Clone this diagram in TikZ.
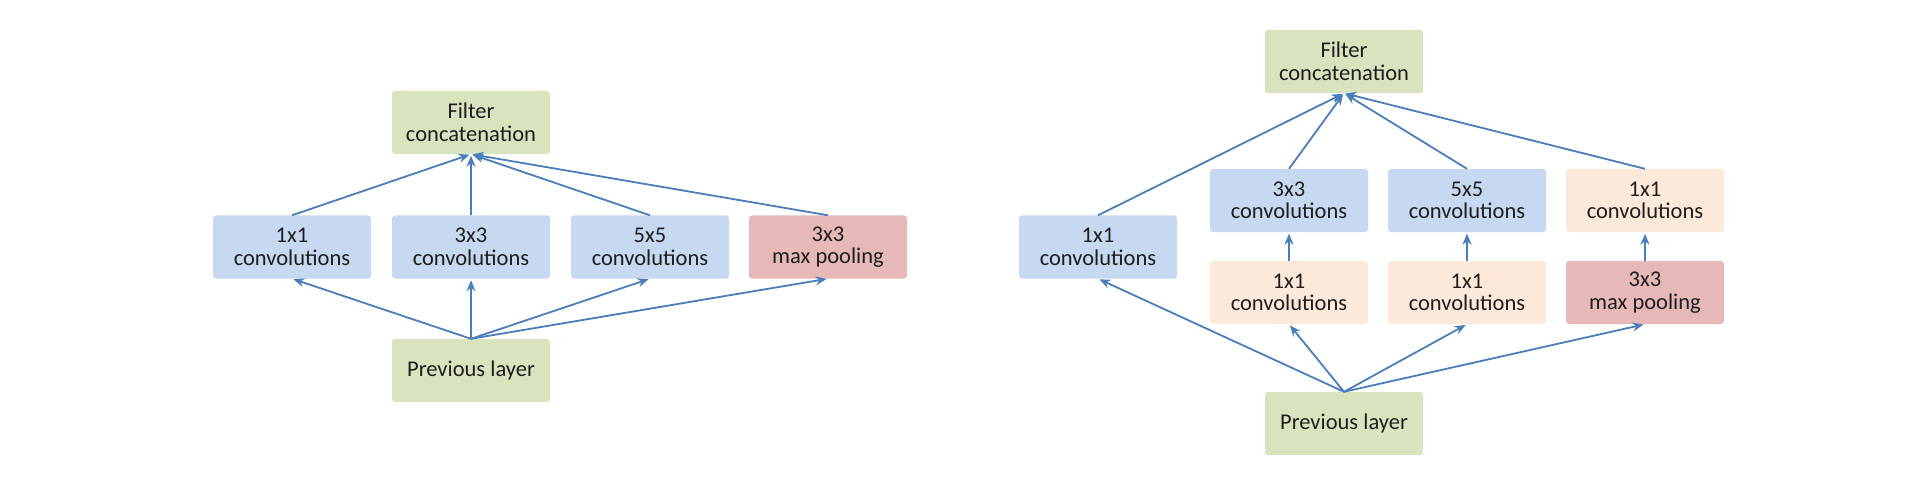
\documentclass[tikz,border=0pt]{standalone}
\usepackage{fontspec}
\setmainfont{Carlito}
\usetikzlibrary{arrows.meta}
\definecolor{bluebox}{RGB}{198,217,241}
\definecolor{greenbox}{RGB}{215,228,189}
\definecolor{peachbox}{RGB}{253,233,217}
\definecolor{redbox}{RGB}{230,185,184}
\definecolor{arrowc}{RGB}{74,126,187}
\definecolor{txt}{RGB}{30,30,30}
\tikzset{
  box/.style={minimum width=158pt, minimum height=63pt, inner sep=0pt, rounded corners=3pt,
    align=center, text=txt, font=\fontsize{22.5}{22.5}\selectfont},
  bluen/.style={box, fill=bluebox},
  greenn/.style={box, fill=greenbox},
  peachn/.style={box, fill=peachbox},
  redn/.style={box, fill=redbox},
  arr/.style={draw=arrowc, line width=1.8pt, -{Stealth[length=11pt,width=9pt]}, shorten >=1.5pt}
}
\begin{document}
\begin{tikzpicture}[x=1pt,y=-1pt]
\useasboundingbox (0,0) rectangle (1932,489);
% left diagram
\node[greenn] (lfilter) at (471,122.5) {Filter\\concatenation};
\node[bluen] (l1) at (292,247) {1x1\\convolutions};
\node[bluen] (l3) at (471,247) {3x3\\convolutions};
\node[bluen] (l5) at (650,247) {5x5\\convolutions};
\node[redn] (lp) at (828,247) {3x3\\max pooling};
\node[greenn] (lprev) at (471,370.5) {Previous layer};
\foreach \n in {l1,l3,l5,lp} {
  \draw[arr] (\n.north) -- (lfilter.south);
  \draw[arr] (lprev.north) -- (\n.south);
}
% right diagram
\node[greenn] (rfilter) at (1344,61.5) {Filter\\concatenation};
\node[bluen] (r1) at (1098,247) {1x1\\convolutions};
\node[bluen] (r3) at (1289,200.5) {3x3\\convolutions};
\node[bluen] (r5) at (1467,200.5) {5x5\\convolutions};
\node[peachn] (rpc) at (1645,200.5) {1x1\\convolutions};
\node[peachn] (r3r) at (1289,292.5) {1x1\\convolutions};
\node[peachn] (r5r) at (1467,292.5) {1x1\\convolutions};
\node[redn] (rp) at (1645,292.5) {3x3\\max pooling};
\node[greenn] (rprev) at (1344,423.5) {Previous layer};
\foreach \n in {r1,r3,r5,rpc} {
  \draw[arr] (\n.north) -- (rfilter.south);
}
\foreach \n in {r1,r3r,r5r,rp} {
  \draw[arr] (rprev.north) -- (\n.south);
}
\draw[arr] (r3r.north) -- (r3.south);
\draw[arr] (r5r.north) -- (r5.south);
\draw[arr] (rp.north) -- (rpc.south);
\end{tikzpicture}
\end{document}
